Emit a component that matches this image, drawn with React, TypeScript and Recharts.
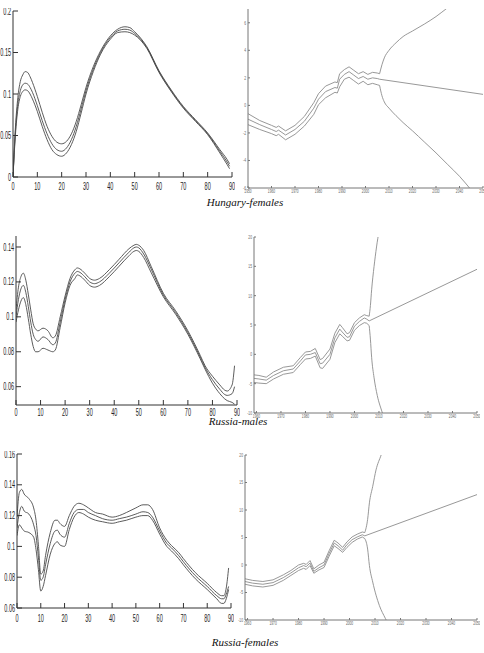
import { Line, LineChart, XAxis, YAxis } from "recharts";

// Hungary, females — age profile (left) and time index with forecast (right)
const HU_AGES = [0, 1, 2, 3, 4, 5, 6, 7, 8, 10, 12, 14, 16, 18, 20, 22, 24, 26, 28, 30, 33, 36, 40, 43, 46, 48, 50, 55, 60, 65, 70, 75, 80, 85, 88, 89];
const HU_AGE_UP = [0, 0.06, 0.096, 0.115, 0.123, 0.127, 0.126, 0.121, 0.114, 0.097, 0.078, 0.061, 0.049, 0.042, 0.04, 0.043, 0.052, 0.067, 0.087, 0.108, 0.133, 0.152, 0.17, 0.178, 0.181, 0.18, 0.175, 0.157, 0.128, 0.105, 0.085, 0.069, 0.053, 0.033, 0.021, 0.016];
const HU_AGE_MID = [0, 0.055, 0.088, 0.104, 0.111, 0.113, 0.112, 0.108, 0.102, 0.086, 0.068, 0.052, 0.04, 0.033, 0.031, 0.035, 0.045, 0.061, 0.082, 0.104, 0.13, 0.15, 0.168, 0.176, 0.178, 0.177, 0.173, 0.156, 0.127, 0.104, 0.084, 0.068, 0.052, 0.031, 0.018, 0.013];
const HU_AGE_LO = [0, 0.051, 0.082, 0.097, 0.103, 0.105, 0.104, 0.1, 0.094, 0.079, 0.061, 0.045, 0.033, 0.027, 0.025, 0.029, 0.039, 0.055, 0.077, 0.1, 0.127, 0.148, 0.166, 0.174, 0.175, 0.174, 0.171, 0.155, 0.126, 0.103, 0.083, 0.067, 0.051, 0.029, 0.015, 0.01];

const HU_YEARS = [1950, 1955, 1960, 1962, 1963, 1966, 1970, 1974, 1978, 1980, 1983, 1987, 1988, 1989, 1991, 1993, 1995, 1997, 1999, 2001, 2003, 2005, 2006];
const HU_UP = [-0.6, -1.1, -1.45, -1.6, -1.5, -1.85, -1.45, -0.8, 0.2, 0.85, 1.4, 1.7, 1.65, 2.3, 2.6, 2.8, 2.55, 2.3, 2.45, 2.25, 2.4, 2.35, 2.3];
const HU_MID = [-1.0, -1.4, -1.75, -1.9, -1.8, -2.15, -1.75, -1.15, -0.2, 0.45, 1.0, 1.3, 1.25, 1.9, 2.25, 2.45, 2.2, 1.95, 2.1, 1.9, 2.0, 1.95, 1.9];
const HU_LO = [-1.4, -1.75, -2.05, -2.2, -2.1, -2.5, -2.1, -1.5, -0.65, 0.05, 0.55, 0.95, 0.9, 1.35, 1.9, 2.05, 1.8, 1.55, 1.75, 1.5, 1.6, 1.5, 1.45];
const HU_FC_YEARS = [2006, 2007, 2008, 2010, 2013, 2016, 2020, 2025, 2030, 2035, 2040, 2045, 2050];
const HU_FC_UP = [2.3, 2.95, 3.45, 4.0, 4.55, 5.0, 5.4, 5.9, 6.45, 7.1, 7.7, 8.3, 8.8];
const HU_FC_LO = [1.45, 0.7, 0.25, -0.2, -0.75, -1.25, -1.85, -2.65, -3.45, -4.3, -5.15, -6.15, -7.2];
const HU_FC_MID_YEARS = [2006, 2050];
const HU_FC_MID = [1.9, 0.8];

// Russia, males
const RM_AGES = [0, 1, 2, 3, 4, 5, 6, 7, 8, 9, 11, 13, 15, 16, 18, 20, 22, 24, 25, 26, 28, 30, 32, 34, 38, 42, 46, 48, 49, 50, 52, 55, 60, 65, 70, 75, 77, 80, 83, 85, 86, 88, 89];
const RM_AGE_UP = [0.104, 0.117, 0.123, 0.125, 0.121, 0.113, 0.104, 0.096, 0.093, 0.092, 0.0935, 0.092, 0.088, 0.089, 0.1, 0.112, 0.122, 0.127, 0.128, 0.1275, 0.125, 0.122, 0.121, 0.122, 0.127, 0.133, 0.139, 0.141, 0.1415, 0.141, 0.138, 0.129, 0.1135, 0.1035, 0.092, 0.078, 0.072, 0.066, 0.061, 0.058, 0.0575, 0.061, 0.072];
const RM_AGE_MID = [0.1, 0.11, 0.116, 0.118, 0.114, 0.106, 0.097, 0.09, 0.087, 0.086, 0.0885, 0.087, 0.084, 0.085, 0.097, 0.11, 0.12, 0.125, 0.126, 0.1255, 0.123, 0.12, 0.119, 0.12, 0.125, 0.131, 0.137, 0.1395, 0.14, 0.1395, 0.136, 0.1275, 0.1125, 0.1025, 0.091, 0.077, 0.071, 0.064, 0.0585, 0.0555, 0.055, 0.056, 0.06];
const RM_AGE_LO = [0.097, 0.104, 0.109, 0.111, 0.107, 0.099, 0.09, 0.083, 0.08, 0.08, 0.082, 0.081, 0.08, 0.081, 0.094, 0.108, 0.118, 0.122, 0.124, 0.1235, 0.121, 0.118, 0.117, 0.118, 0.123, 0.129, 0.135, 0.1375, 0.138, 0.1375, 0.134, 0.1255, 0.1115, 0.1015, 0.09, 0.076, 0.07, 0.062, 0.056, 0.053, 0.052, 0.051, 0.05];

const RM_YEARS = [1959, 1961, 1964, 1967, 1971, 1975, 1978, 1980, 1982, 1984, 1986, 1987, 1990, 1992, 1994, 1995, 1997, 1998, 2000, 2002, 2004, 2005, 2006];
const RM_UP = [-3.5, -3.6, -3.9, -3.0, -2.2, -1.95, -0.5, 0.4, 0.5, 1.0, -0.9, -0.7, 0.9, 3.6, 5.1, 4.6, 3.5, 3.7, 5.4, 6.2, 6.75, 6.6, 6.5];
const RM_MID = [-4.1, -4.2, -4.4, -3.6, -2.8, -2.5, -1.1, -0.1, 0.0, 0.3, -1.6, -1.5, 0.0, 2.8, 4.3, 3.8, 2.9, 3.0, 4.8, 5.6, 6.2, 6.0, 5.7];
const RM_LO = [-4.8, -4.9, -5.0, -4.2, -3.4, -3.1, -1.7, -0.8, -0.7, -0.3, -2.3, -2.4, -0.85, 2.0, 3.5, 3.1, 2.3, 2.4, 4.1, 4.9, 5.4, 5.3, 4.9];
const RM_FC_UP_YEARS = [2006, 2006.5, 2007, 2008, 2009, 2010, 2011];
const RM_FC_UP = [6.5, 8.3, 11.0, 15.0, 18.3, 21.0, 23.5];
const RM_FC_LO_YEARS = [2006, 2006.5, 2007, 2008, 2009.3, 2011.4, 2012.5];
const RM_FC_LO = [4.9, 2.6, -0.5, -4.0, -7.0, -10.0, -11.5];
const RM_FC_MID_YEARS = [2006, 2050];
const RM_FC_MID = [5.7, 14.5];

// Russia, females
const RF_AGES = [0, 1, 2, 3, 5, 7, 8, 9, 10, 11, 12, 14, 16, 17, 18, 20, 22, 24, 26, 28, 30, 33, 36, 40, 43, 46, 50, 53, 55, 57, 60, 63, 65, 68, 70, 75, 80, 84, 86, 87, 88, 89];
const RF_AGE_UP = [0.119, 0.135, 0.137, 0.134, 0.131, 0.125, 0.117, 0.101, 0.082, 0.084, 0.094, 0.109, 0.117, 0.117, 0.115, 0.113, 0.12, 0.126, 0.128, 0.127, 0.125, 0.122, 0.121, 0.119, 0.12, 0.122, 0.125, 0.127, 0.127, 0.124, 0.112, 0.104, 0.1005, 0.096, 0.092, 0.083, 0.076, 0.07, 0.068, 0.068, 0.073, 0.086];
const RF_AGE_MID = [0.112, 0.122, 0.126, 0.123, 0.121, 0.114, 0.107, 0.093, 0.078, 0.08, 0.088, 0.102, 0.11, 0.1105, 0.108, 0.106, 0.115, 0.122, 0.124, 0.124, 0.122, 0.12, 0.118, 0.117, 0.118, 0.119, 0.121, 0.1225, 0.122, 0.119, 0.11, 0.102, 0.099, 0.094, 0.09, 0.081, 0.074, 0.068, 0.066, 0.066, 0.069, 0.074];
const RF_AGE_LO = [0.107, 0.114, 0.112, 0.11, 0.109, 0.106, 0.098, 0.085, 0.071, 0.074, 0.081, 0.095, 0.102, 0.103, 0.101, 0.1, 0.111, 0.119, 0.122, 0.121, 0.119, 0.117, 0.116, 0.115, 0.116, 0.117, 0.119, 0.12, 0.12, 0.117, 0.108, 0.1, 0.097, 0.092, 0.088, 0.079, 0.072, 0.066, 0.063, 0.063, 0.066, 0.072];

const RF_YEARS = [1959, 1962, 1966, 1970, 1974, 1977, 1980, 1982, 1983, 1984.5, 1986, 1988, 1990, 1992, 1994, 1995.5, 1997.3, 1999, 2001, 2003, 2005, 2006];
const RF_UP = [-2.5, -2.8, -3.0, -2.7, -1.8, -1.0, 0.0, 0.3, 0.1, 0.8, -0.7, 0.0, 0.5, 2.6, 4.5, 4.0, 3.2, 4.2, 5.1, 5.6, 6.0, 5.9];
const RF_MID = [-3.0, -3.3, -3.5, -3.2, -2.3, -1.45, -0.5, -0.1, -0.3, 0.35, -1.15, -0.5, 0.0, 2.1, 4.0, 3.5, 2.7, 3.7, 4.6, 5.1, 5.5, 5.3];
const RF_LO = [-3.5, -3.8, -4.0, -3.7, -2.8, -1.9, -1.0, -0.6, -0.8, -0.1, -1.5, -0.9, -0.45, 1.6, 3.5, 3.0, 2.3, 3.2, 4.1, 4.7, 5.1, 4.8];
const RF_FC_UP_YEARS = [2006, 2007.1, 2007.8, 2009.1, 2010.4, 2012.4, 2013.5];
const RF_FC_UP = [5.9, 8.3, 11.3, 14.3, 17.3, 20.0, 21.5];
const RF_FC_LO_YEARS = [2006, 2007.1, 2007.8, 2009.1, 2011.7, 2014.1, 2015];
const RF_FC_LO = [4.8, 2.9, -0.1, -3.1, -7.35, -9.75, -10.6];
const RF_FC_MID_YEARS = [2006, 2050];
const RF_FC_MID = [5.3, 12.8];

// axis ticks
const AGE_TICKS = [0, 10, 20, 30, 40, 50, 60, 70, 80, 90];
const YEAR_TICKS = [1950, 1960, 1970, 1980, 1990, 2000, 2010, 2020, 2030, 2040, 2050];
const HU_AGE_TICKS = [0, 0.05, 0.1, 0.15, 0.2];
const HU_K_TICKS = [-6, -4, -2, 0, 2, 4, 6];
const RM_AGE_TICKS = [0.06, 0.08, 0.1, 0.12, 0.14];
const RF_AGE_TICKS = [0.06, 0.08, 0.1, 0.12, 0.14, 0.16];
const RU_K_TICKS = [-10, -5, 0, 5, 10, 15, 20];

type Curve = "monotone" | "linear";
type Series = { xs: number[]; ys: number[]; curve: Curve };

const BIG = { fs: 10, sx: 0.55, text: "#222", tick: 5, axis: "#333", line: "#4a4a4a", lw: 0.9 };
const SMALL = { fs: 5.5, sx: 0.6, text: "#666", tick: 2, axis: "#777", line: "#8c8c8c", lw: 0.9 };

function mergeRows(list: { xs: number[]; ys: number[]; key: string }[]) {
  const map = new Map<number, any>();
  list.forEach(({ xs, ys, key }) =>
    xs.forEach((x, i) => {
      const row = map.get(x) ?? { x };
      row[key] = ys[i];
      map.set(x, row);
    })
  );
  return [...map.values()].sort((a, b) => a.x - b.x);
}

function Label({ x, y, payload, st, anchor }: any) {
  return (
    <g transform={`translate(${x},${y})`}>
      <text
        transform={`scale(${st.sx},1)`}
        textAnchor={anchor}
        dy="0.35em"
        fontSize={st.fs}
        fill={st.text}
        fontFamily="'Liberation Sans', Arial, sans-serif"
      >
        {payload.value}
      </text>
    </g>
  );
}

function Panel({
  box,
  xDomain,
  xTicks,
  yDomain,
  yTicks,
  lines,
  small,
  yw,
  xOff,
}: {
  box: [number, number, number, number];
  xDomain: [number, number];
  xTicks: number[];
  yDomain: [number, number];
  yTicks: number[];
  lines: Series[];
  small?: boolean;
  yw: number;
  xOff: number;
}) {
  const [l, t, r, b] = box;
  const pad = 3;
  const xh = xOff + 10;
  const st = small ? SMALL : BIG;
  const keys = lines.map((_, i) => "s" + i);
  const rows = mergeRows(lines.map((s, i) => ({ xs: s.xs, ys: s.ys, key: keys[i] })));
  const ticks = xTicks.filter((v) => v >= xDomain[0] - 1 && v <= xDomain[1]);
  return (
    <div style={{ position: "absolute", left: l - yw, top: t - pad }}>
      <LineChart
        width={yw + (r - l) + pad}
        height={pad + (b - t) + xh}
        data={rows}
        margin={{ top: pad, right: pad, bottom: 0, left: 0 }}
      >
        <XAxis
          dataKey="x"
          type="number"
          domain={xDomain}
          ticks={ticks}
          allowDataOverflow
          interval={0}
          height={xh}
          tickSize={-st.tick}
          tickMargin={st.tick + xOff}
          tick={(p: any) => <Label {...p} st={st} anchor="middle" />}
          stroke={st.axis}
        />
        <XAxis
          xAxisId="top"
          orientation="top"
          dataKey="x"
          type="number"
          domain={xDomain}
          ticks={ticks}
          allowDataOverflow
          interval={0}
          height={0}
          tickSize={-st.tick}
          tick={false}
          stroke={st.axis}
        />
        <YAxis
          type="number"
          domain={yDomain}
          ticks={yTicks}
          allowDataOverflow
          interval={0}
          width={yw}
          tickSize={-st.tick}
          tickMargin={st.tick + 2}
          tick={(p: any) => <Label {...p} st={st} anchor="end" />}
          stroke={st.axis}
        />
        <YAxis
          yAxisId="right"
          orientation="right"
          type="number"
          domain={yDomain}
          ticks={yTicks}
          allowDataOverflow
          interval={0}
          width={0}
          tickSize={-st.tick}
          tick={false}
          stroke={st.axis}
        />
        {lines.map((s, i) => (
          <Line
            key={keys[i]}
            dataKey={keys[i]}
            type={s.curve}
            stroke={st.line}
            strokeWidth={st.lw}
            dot={false}
            activeDot={false}
            connectNulls
            isAnimationActive={false}
          />
        ))}
      </LineChart>
    </div>
  );
}

function Caption({ text, cx, cy }: { text: string; cx: number; cy: number }) {
  return (
    <div
      style={{
        position: "absolute",
        left: cx - 60,
        top: cy - 7,
        width: 120,
        lineHeight: "14px",
        textAlign: "center",
        fontFamily: "'Liberation Serif', 'Times New Roman', serif",
        fontStyle: "italic",
        fontSize: 11,
        color: "#111",
      }}
    >
      {text}
    </div>
  );
}

const band = (xs: number[], up: number[], mid: number[], lo: number[], curve: Curve): Series[] => [
  { xs, ys: up, curve },
  { xs, ys: mid, curve },
  { xs, ys: lo, curve },
];

export default function App() {
  return (
    <div style={{ position: "absolute", left: 0, top: 0, width: 484, height: 653, background: "#fff" }}>
      <Panel
        box={[13, 11, 232, 177]}
        xDomain={[0, 90]}
        xTicks={AGE_TICKS}
        yDomain={[0, 0.2]}
        yTicks={HU_AGE_TICKS}
        lines={band(HU_AGES, HU_AGE_UP, HU_AGE_MID, HU_AGE_LO, "monotone")}
        yw={13}
        xOff={9}
      />
      <Panel
        box={[248, 9, 483, 188]}
        xDomain={[1950, 2050]}
        xTicks={YEAR_TICKS}
        yDomain={[-6, 7]}
        yTicks={HU_K_TICKS}
        lines={[
          ...band(HU_YEARS, HU_UP, HU_MID, HU_LO, "linear"),
          { xs: HU_FC_YEARS, ys: HU_FC_UP, curve: "monotone" },
          { xs: HU_FC_MID_YEARS, ys: HU_FC_MID, curve: "linear" },
          { xs: HU_FC_YEARS, ys: HU_FC_LO, curve: "monotone" },
        ]}
        small
        yw={6}
        xOff={3.5}
      />
      <Caption text="Hungary-females" cx={245} cy={202} />

      <Panel
        box={[16, 236, 237, 405]}
        xDomain={[0, 90]}
        xTicks={AGE_TICKS}
        yDomain={[0.0495, 0.1463]}
        yTicks={RM_AGE_TICKS}
        lines={band(RM_AGES, RM_AGE_UP, RM_AGE_MID, RM_AGE_LO, "monotone")}
        yw={16}
        xOff={7}
      />
      <Panel
        box={[254, 237, 477, 413]}
        xDomain={[1959, 2050]}
        xTicks={YEAR_TICKS}
        yDomain={[-10, 20]}
        yTicks={RU_K_TICKS}
        lines={[
          ...band(RM_YEARS, RM_UP, RM_MID, RM_LO, "linear"),
          { xs: RM_FC_UP_YEARS, ys: RM_FC_UP, curve: "monotone" },
          { xs: RM_FC_MID_YEARS, ys: RM_FC_MID, curve: "linear" },
          { xs: RM_FC_LO_YEARS, ys: RM_FC_LO, curve: "monotone" },
        ]}
        small
        yw={12}
        xOff={3.5}
      />
      <Caption text="Russia-males" cx={238} cy={421} />

      <Panel
        box={[17, 454, 231, 608]}
        xDomain={[0, 90]}
        xTicks={AGE_TICKS}
        yDomain={[0.06, 0.16]}
        yTicks={RF_AGE_TICKS}
        lines={band(RF_AGES, RF_AGE_UP, RF_AGE_MID, RF_AGE_LO, "monotone")}
        yw={17}
        xOff={10}
      />
      <Panel
        box={[245, 455, 477, 620]}
        xDomain={[1959, 2050]}
        xTicks={YEAR_TICKS}
        yDomain={[-10, 20]}
        yTicks={RU_K_TICKS}
        lines={[
          ...band(RF_YEARS, RF_UP, RF_MID, RF_LO, "linear"),
          { xs: RF_FC_UP_YEARS, ys: RF_FC_UP, curve: "monotone" },
          { xs: RF_FC_MID_YEARS, ys: RF_FC_MID, curve: "linear" },
          { xs: RF_FC_LO_YEARS, ys: RF_FC_LO, curve: "monotone" },
        ]}
        small
        yw={8}
        xOff={3}
      />
      <Caption text="Russia-females" cx={245} cy={642} />
    </div>
  );
}
